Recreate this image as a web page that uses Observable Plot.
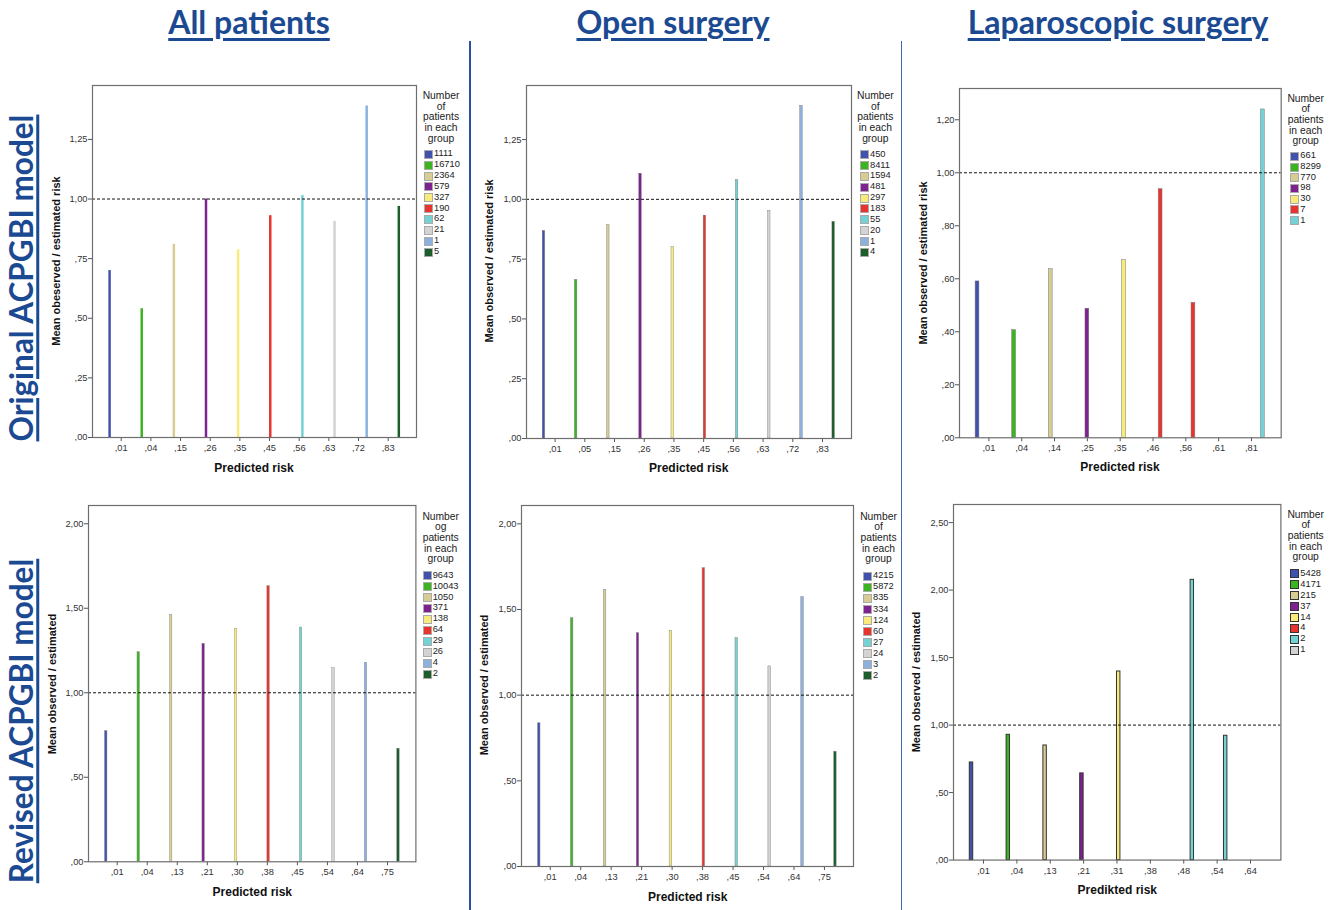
<!DOCTYPE html>
<html><head><meta charset="utf-8">
<script src="https://cdn.jsdelivr.net/npm/d3@7"></script>
<script src="https://cdn.jsdelivr.net/npm/@observablehq/plot@0.6"></script>
<style>
body{margin:0;background:#fff;}
#root{position:relative;width:1338px;height:910px;overflow:hidden;font-family:"Liberation Sans",Arial,sans-serif;color:#222;}
.abs{position:absolute;white-space:nowrap;line-height:1;}
.title{font-family:Lato,sans-serif;font-weight:700;font-size:32px;color:#1B4A93;text-decoration:underline;text-decoration-thickness:3px;text-underline-offset:4px;}
.rowlab{font-family:Lato,sans-serif;font-weight:700;font-size:31.5px;color:#1B4A93;text-decoration:underline;text-decoration-thickness:3px;text-underline-offset:3px;}
.ylab{font-weight:700;font-size:11px;color:#111;}
.xlab{font-weight:700;font-size:12px;color:#111;}
.legt{font-size:10.3px;color:#222;}
.legi{font-size:9.3px;color:#222;}
.sw{position:absolute;width:7px;height:7px;border:1px solid #999;box-sizing:content-box;}
.sep{position:absolute;}
svg{overflow:visible;}
</style></head>
<body><div id="root"></div>
<script>
// ---------- colours of the "number of patients" groups (legend order) ----------
const groupColors = ["#4152AE","#3AB41F","#D6CC94","#7D2290","#F8EB79","#E8332F","#73D2D3","#D3D3D3","#8DB1DF","#1B5E2C"];

// ---------- Original ACPGBI model ----------
const origAllRisk  = [",01",",04",",15",",26",",35",",45",",56",",63",",72",",83"];
const origAllRatio = [0.70,0.54,0.81,1.00,0.787,0.93,1.015,0.906,1.39,0.969];
const origAllGroup = [0,1,2,3,4,5,6,7,8,9];
const origAllN     = ["1111","16710","2364","579","327","190","62","21","1","5"];

const origOpenRisk  = [",01",",05",",15",",26",",35",",45",",56",",63",",72",",83"];
const origOpenRatio = [0.868,0.663,0.892,1.107,0.80,0.932,1.08,0.952,1.391,0.906];
const origOpenGroup = [0,1,2,3,4,5,6,7,8,9];
const origOpenN     = ["450","8411","1594","481","297","183","55","20","1","4"];

const origLapRisk  = [",01",",04",",14",",25",",35",",46",",56",",61",",81"];
const origLapRatio = [0.59,0.406,0.636,0.487,0.67,0.938,0.509,0,1.239];
const origLapGroup = [0,1,2,3,4,5,5,6,6];
const origLapN     = ["661","8299","770","98","30","7","1"];

// ---------- Revised ACPGBI model ----------
const revAllRisk  = [",01",",04",",13",",21",",30",",38",",45",",54",",64",",75"];
const revAllRatio = [0.773,1.240,1.461,1.290,1.379,1.631,1.386,1.146,1.178,0.669];
const revAllGroup = [0,1,2,3,4,5,6,7,8,9];
const revAllN     = ["9643","10043","1050","371","138","64","29","26","4","2"];

const revOpenRisk  = [",01",",04",",13",",21",",30",",38",",45",",54",",64",",75"];
const revOpenRatio = [0.836,1.449,1.615,1.362,1.376,1.741,1.333,1.168,1.572,0.670];
const revOpenGroup = [0,1,2,3,4,5,6,7,8,9];
const revOpenN     = ["4215","5872","835","334","124","60","27","24","3","2"];

const revLapRisk  = [",01",",04",",13",",21",",31",",38",",48",",54",",64"];
const revLapRatio = [0.723,0.928,0.849,0.642,1.397,0,2.076,0.921,0];
const revLapGroup = [0,1,2,3,4,5,6,6,7];
const revLapN     = ["5428","4171","215","37","14","4","2","1"];

// ---------- texts ----------
const colTitles = ["All patients","Open surgery","Laparoscopic surgery"];
const rowTitles = ["Original ACPGBI model","Revised ACPGBI model"];
const legendTitle = ["Number","of","patients","in each","group"];
const legendTitleOg = ["Number","og","patients","in each","group"];

const root = document.getElementById("root");
function place(text, cx, cy, cls, rot) {
  const d = document.createElement("div");
  d.className = "abs " + cls;
  d.textContent = text;
  d.style.left = cx + "px"; d.style.top = cy + "px";
  d.style.transform = "translate(-50%,-50%)" + (rot ? " rotate(-90deg)" : "");
  root.appendChild(d);
  return d;
}
function line(x, y1, y2, w, color) {
  const d = document.createElement("div");
  d.className = "sep";
  d.style.left = (x - w/2) + "px"; d.style.top = y1 + "px";
  d.style.width = w + "px"; d.style.height = (y2 - y1) + "px";
  d.style.background = color;
  root.appendChild(d);
}
function legend(L, counts, titleLines, swStroke) {
  titleLines.forEach((t, i) => place(t, L.cx, L.ty + i * 10.67, "legt"));
  counts.forEach((c, i) => {
    const cy = L.iy + i * L.step;
    const s = document.createElement("div");
    s.className = "sw";
    s.style.left = L.sx + "px"; s.style.top = (cy - 4.5) + "px";
    s.style.background = groupColors[i];
    s.style.borderColor = swStroke;
    root.appendChild(s);
    const t = document.createElement("div");
    t.className = "abs legi";
    t.textContent = c;
    t.style.left = (L.sx + 10) + "px"; t.style.top = (cy - 5) + "px";
    root.appendChild(t);
  });
}

const fmt = v => d3.format(".2f")(v).replace(".", ",").replace(/^0/, "");

function panel(p) {
  const nC = p.risk.length, nG = p.counts.length;
  // clustered layout: each predicted-risk category holds one slot per group
  const slot = 1 / (nG + 2 * p.po);
  const data = p.risk.map((r, i) => {
    const x1 = i - 0.5 + (p.po + p.group[i]) * slot;
    return {risk: r, ratio: p.ratio[i], group: p.group[i], x1, x2: x1 + slot};
  });
  const mL = 40, mR = 2, mT = 2, mB = 24;
  const [L, R, T, B] = p.frame;
  const width = R - L + mL + mR, height = B - T + mT + mB;
  const chart = Plot.plot({
    width, height, marginLeft: mL, marginRight: mR, marginTop: mT, marginBottom: mB,
    x: {domain: [-0.5, nC - 0.5], insetLeft: p.inset[0], insetRight: p.inset[1]},
    y: {domain: [0, p.ymax]},
    color: {type: "ordinal", domain: d3.range(nG), range: groupColors.slice(0, nG)},
    style: {fontFamily: "Liberation Sans, Arial, sans-serif", fontSize: "9px", color: "#333", background: "transparent", overflow: "visible"},
    marks: [
      Plot.rect(data, {x1: "x1", x2: "x2", y1: 0, y2: "ratio", fill: "group", stroke: p.barStroke, strokeWidth: p.barStrokeWidth}),
      Plot.ruleY([1], {stroke: "#111", strokeDasharray: "3,2", strokeWidth: 1}),
      Plot.axisY(p.yticks, {tickFormat: fmt, tickSize: 4, tickPadding: 1, label: null, fontSize: 9.3, stroke: "#555"}),
      Plot.axisX(d3.range(nC), {tickFormat: i => p.risk[i], tickSize: 4, tickPadding: 3, label: null, fontSize: 9.3, stroke: "#555"}),
      Plot.frame({stroke: "#6e6e6e", strokeWidth: 1.2})
    ]
  });
  const wrap = document.createElement("div");
  wrap.style.position = "absolute";
  wrap.style.left = (L - mL) + "px";
  wrap.style.top = (T - mT) + "px";
  wrap.appendChild(chart);
  root.appendChild(wrap);
  place(p.ylab, p.ylabPos[0], p.ylabPos[1], "ylab", true);
  place(p.xlab, p.xlabPos[0], p.xlabPos[1], "xlab");
  legend(p.legend, p.counts, p.legendTitle, p.swStroke);
}

// separators and titles
line(470, 41, 910, 2.6, "#2B4F9B");
line(901.7, 41, 910, 1.6, "#4068B2");
place(colTitles[0], 249, 22, "title");
place(colTitles[1], 673, 22, "title");
place(colTitles[2], 1118, 22, "title");
place(rowTitles[0], 22, 278, "rowlab", true);
place(rowTitles[1], 22, 721, "rowlab", true);

const ticks25 = [0, 0.25, 0.5, 0.75, 1, 1.25];
const ticks20 = [0, 0.2, 0.4, 0.6, 0.8, 1, 1.2];
const ticks50 = [0, 0.5, 1, 1.5, 2];
const ticks50b = [0, 0.5, 1, 1.5, 2, 2.5];

panel({risk: origAllRisk, ratio: origAllRatio, group: origAllGroup, counts: origAllN,
  frame: [92, 416, 85, 437], inset: [13.9, 13.5], po: 0.99, ymax: 1.476, yticks: ticks25,
  barStroke: "none", barStrokeWidth: 0,
  ylab: "Mean obeserved / estimated risk", ylabPos: [56, 261],
  xlab: "Predicted risk", xlabPos: [254, 468],
  legend: {cx: 441, ty: 96, sx: 424, iy: 154.3, step: 10.86}, legendTitle: legendTitle, swStroke: "#aaa"});

panel({risk: origOpenRisk, ratio: origOpenRatio, group: origOpenGroup, counts: origOpenN,
  frame: [525.7, 850.7, 84.7, 437.7], inset: [13.75, 14.15], po: 0.99, ymax: 1.476, yticks: ticks25,
  barStroke: "#777", barStrokeWidth: 0.4,
  ylab: "Mean observed / estimated risk", ylabPos: [489.3, 261],
  xlab: "Predicted risk", xlabPos: [688.7, 468.3],
  legend: {cx: 875.3, ty: 96, sx: 860, iy: 154.7, step: 10.85}, legendTitle: legendTitle, swStroke: "#aaa"});

panel({risk: origLapRisk, ratio: origLapRatio, group: origLapGroup, counts: origLapN,
  frame: [959.3, 1281, 87.7, 437], inset: [13.0, 13.3], po: 0.82, ymax: 1.318, yticks: ticks20,
  barStroke: "#777", barStrokeWidth: 0.5,
  ylab: "Mean observed / estimated risk", ylabPos: [923.3, 262.5],
  xlab: "Predicted risk", xlabPos: [1120, 467.3],
  legend: {cx: 1305.7, ty: 98.7, sx: 1290.3, iy: 156.3, step: 10.72}, legendTitle: legendTitle, swStroke: "#aaa"});

panel({risk: revAllRisk, ratio: revAllRatio, group: revAllGroup, counts: revAllN,
  frame: [88.3, 415.7, 505, 861.3], inset: [13.7, 13.4], po: 1.15, ymax: 2.108, yticks: ticks50,
  barStroke: "#888", barStrokeWidth: 0.4,
  ylab: "Mean observed / estimated", ylabPos: [51.7, 683.7],
  xlab: "Predicted risk", xlabPos: [252.3, 892.3],
  legend: {cx: 440.7, ty: 516.7, sx: 422.7, iy: 575.7, step: 10.93}, legendTitle: legendTitleOg, swStroke: "#aaa"});

panel({risk: revOpenRisk, ratio: revOpenRatio, group: revOpenGroup, counts: revOpenN,
  frame: [521.3, 853.3, 505, 866], inset: [13.5, 13.8], po: 1.25, ymax: 2.107, yticks: ticks50,
  barStroke: "#888", barStrokeWidth: 0.5,
  ylab: "Mean observed / estimated", ylabPos: [484, 685.3],
  xlab: "Predicted risk", xlabPos: [687.7, 896.7],
  legend: {cx: 878.5, ty: 516.7, sx: 863, iy: 576.3, step: 11.07}, legendTitle: legendTitle, swStroke: "#aaa"});

panel({risk: revLapRisk, ratio: revLapRatio, group: revLapGroup, counts: revLapN,
  frame: [953.3, 1280.7, 503.7, 859.3], inset: [13.3, 13.7], po: 0.87, ymax: 2.634, yticks: ticks50b,
  barStroke: "#333", barStrokeWidth: 1,
  ylab: "Mean observed / estimated", ylabPos: [916, 681.7],
  xlab: "Predikted risk", xlabPos: [1117.3, 890],
  legend: {cx: 1305.7, ty: 514.7, sx: 1290.3, iy: 573.7, step: 10.95}, legendTitle: legendTitle, swStroke: "#333"});
</script>
</body></html>
